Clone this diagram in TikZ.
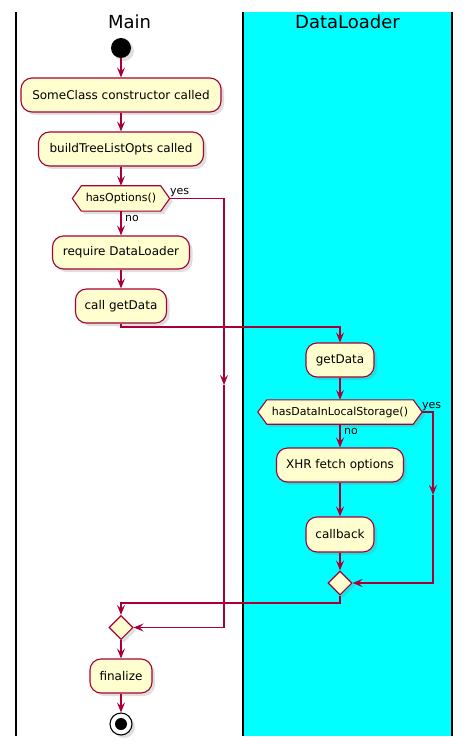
\documentclass[tikz,border=0pt]{standalone}
\usepackage{fontspec}
\setmainfont{DejaVu Sans}
\usetikzlibrary{arrows.meta,shapes.geometric,shadows,calc}
\definecolor{pborder}{HTML}{A80036}
\definecolor{pfill}{HTML}{FEFECE}
\definecolor{lanecyan}{HTML}{00FFFF}
\begin{document}
\begin{tikzpicture}[x=1pt,y=-1pt,
  shd/.style={drop shadow={shadow xshift=3pt,shadow yshift=-3pt,opacity=0.25}},
  act/.style={rectangle, rounded corners=11pt, draw=pborder, fill=pfill, line width=1.1pt,
    font=\fontsize{12}{14}\selectfont, minimum height=34pt, inner sep=0pt, shd},
  dec/.style={rectangle, draw=none, inner sep=0pt, font=\fontsize{11}{13}\selectfont},
  merge/.style={diamond, draw=pborder, fill=pfill, line width=1.1pt, minimum size=24pt, inner sep=0pt, shd},
  flow/.style={draw=pborder, line width=1.1pt, -{Stealth[length=10pt,width=8pt,inset=4pt]}},
  lbl/.style={font=\fontsize{11}{13}\selectfont, inner sep=0pt},
  lane/.style={line width=1.5pt, black},
  title/.style={font=\fontsize{18}{21}\selectfont, inner sep=0pt}]
\useasboundingbox (0,0) rectangle (471,751);
% lanes
\fill[lanecyan] (243,12) rectangle (452,736);
\draw[lane] (16,12) -- (16,736);
\draw[lane] (243,12) -- (243,736);
\draw[lane] (452,12) -- (452,736);
\node[title] (tmain) at (129.5,22) {Main};
\node[title] (tdl) at (347.5,22) {DataLoader};
% Main lane
\node[circle, fill=black, minimum size=20pt, inner sep=0pt, shd] (start) at (121,48) {};
\node[act, minimum width=200pt] (a1) at (121,95) {SomeClass constructor called};
\node[act, minimum width=165pt] (a2) at (121,149) {buildTreeListOpts called};
\node[dec, minimum width=97pt, minimum height=25pt] (d1) at (121,198.5) {hasOptions()};
\filldraw[draw=pborder, fill=pfill, line width=1.1pt, shd]
  (d1.west) -- ($(d1.north west)+(9,0)$) -- ($(d1.north east)+(-9,0)$) -- (d1.east)
  -- ($(d1.south east)+(-9,0)$) -- ($(d1.south west)+(9,0)$) -- cycle;
\node[dec, minimum width=97pt, minimum height=25pt] at (121,198.5) {hasOptions()};
\node[act, minimum width=137pt, minimum height=33pt] (a3) at (121,252.5) {require DataLoader};
\node[act, minimum width=91pt] (a4) at (121,306) {call getData};
\node[merge] (m1) at (121,627.5) {};
\node[act, minimum width=62pt] (a5) at (121,676) {finalize};
\node[circle, draw=black, fill=white, line width=1.1pt, minimum size=22pt, inner sep=0pt, shd] (stop) at (121,724) {};
\node[circle, fill=black, minimum size=12pt, inner sep=0pt] (stopin) at (121,724) {};
% DataLoader lane
\node[act, minimum width=68pt] (b1) at (340,360) {getData};
\node[dec, minimum width=164pt, minimum height=24pt] (d2) at (340,412) {hasDataInLocalStorage()};
\filldraw[draw=pborder, fill=pfill, line width=1.1pt, shd]
  (d2.west) -- ($(d2.north west)+(9,0)$) -- ($(d2.north east)+(-9,0)$) -- (d2.east)
  -- ($(d2.south east)+(-9,0)$) -- ($(d2.south west)+(9,0)$) -- cycle;
\node[dec, minimum width=164pt, minimum height=24pt] at (340,412) {hasDataInLocalStorage()};
\node[act, minimum width=127pt] (b2) at (340,465) {XHR fetch options};
\node[act, minimum width=68pt, minimum height=35pt] (b3) at (340,534.5) {callback};
\node[merge] (m2) at (340,583) {};
% bend coordinates
\coordinate (c1) at (224,198.5);
\coordinate (c1m) at (224,385);
\coordinate (c1b) at (224,627.5);
\coordinate (c2) at (121,327);
\coordinate (c3) at (433,412);
\coordinate (c3m) at (433,495);
\coordinate (c3b) at (433,583);
\coordinate (c4) at (340,603);
\coordinate (c5) at (121,603);
% connectors
\draw[flow] (start) -- (a1);
\draw[flow] (a1) -- (a2);
\draw[flow] (a2) -- (d1.north);
\draw[flow] (d1.south) -- (a3);
\draw[flow] (a3) -- (a4);
\draw[flow] (a4.south) -- (c2) -| (b1.north);
\draw[flow] (d1.east) -- (c1) -- (c1m);
\draw[flow] (c1m) -- (c1b) -- (m1.east);
\draw[flow] (b1) -- (d2.north);
\draw[flow] (d2.south) -- (b2);
\draw[flow] (b2) -- (b3);
\draw[flow] (b3) -- (m2.north);
\draw[flow] (d2.east) -- (c3) -- (c3m);
\draw[flow] (c3m) -- (c3b) -- (m2.east);
\draw[flow] (m2.south) -- (c4) -- (c5) -- (m1.north);
\draw[flow] (m1.south) -- (a5);
\draw[flow] (a5) -- (stop);
% labels
\node[lbl, anchor=south west] (ly1) at (170,197) {yes};
\node[lbl, anchor=west] (ln1) at (125,218) {no};
\node[lbl, anchor=south west] (ly2) at (422,411) {yes};
\node[lbl, anchor=west] (ln2) at (344,431) {no};
\end{tikzpicture}
\end{document}
